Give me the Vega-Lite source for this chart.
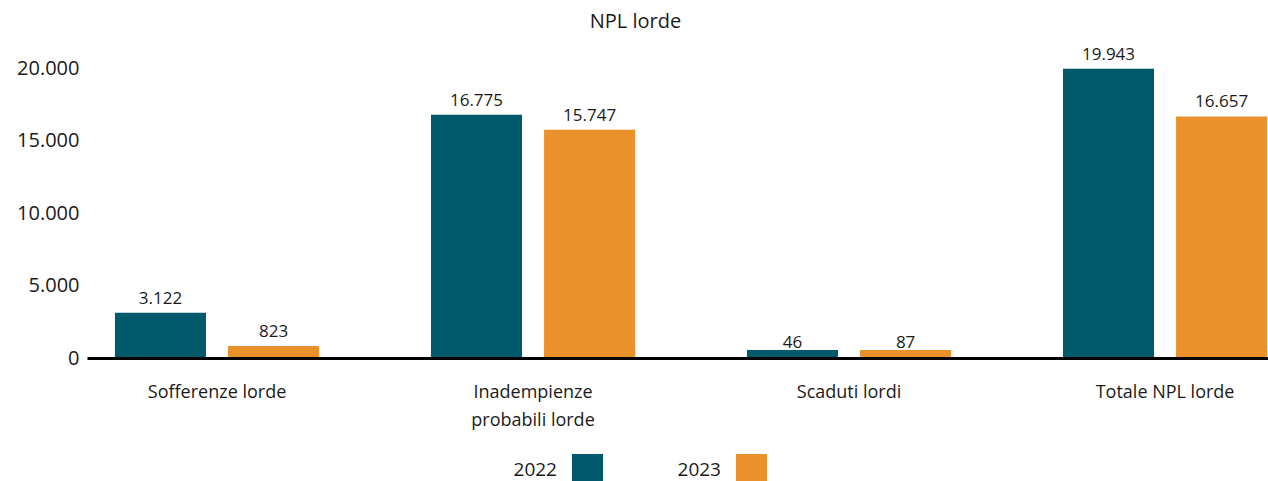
{
  "$schema": "https://vega.github.io/schema/vega-lite/v6.json",
  "autosize": "none",
  "width": 1181,
  "height": 290,
  "padding": {"left": 87, "top": 68, "right": 0, "bottom": 123},
  "background": "white",
  "title": {"text": "NPL lorde", "anchor": "middle", "dx": -42, "offset": 14, "fontSize": 20, "font": "Open Sans", "fontWeight": "normal", "color": "#1a1a1a"},
  "config": {
    "view": {"stroke": null},
    "locale": {"number": {"decimal": ",", "thousands": ".", "grouping": [3], "currency": ["€", ""]}},
    "font": "Open Sans"
  },
  "data": {"values": [
    {"cat": "Sofferenze lorde", "anno": "2022", "valore": 3122},
    {"cat": "Sofferenze lorde", "anno": "2023", "valore": 823},
    {"cat": "Inadempienze probabili lorde", "anno": "2022", "valore": 16775},
    {"cat": "Inadempienze probabili lorde", "anno": "2023", "valore": 15747},
    {"cat": "Scaduti lordi", "anno": "2022", "valore": 46},
    {"cat": "Scaduti lordi", "anno": "2023", "valore": 87},
    {"cat": "Totale NPL lorde", "anno": "2022", "valore": 19943},
    {"cat": "Totale NPL lorde", "anno": "2023", "valore": 16657}
  ]},
  "encoding": {
    "x": {"field": "cat", "type": "nominal", "sort": null,
      "scale": {"paddingInner": 0.354, "paddingOuter": 0.0456, "align": 0.97},
      "axis": {"title": null, "labelAngle": 0, "ticks": false, "domain": true, "domainColor": "#000", "domainWidth": 3,
        "labelFontSize": 18, "labelColor": "#1a1a1a", "labelPadding": 25, "labelBaseline": "top", "labelLineHeight": 28,
        "labelExpr": "datum.value == 'Inadempienze probabili lorde' ? ['Inadempienze', 'probabili lorde'] : datum.value", "zindex": 2}},
    "xOffset": {"field": "anno", "type": "nominal", "scale": {"paddingInner": 0.195, "paddingOuter": 0}},
    "color": {"field": "anno", "type": "nominal",
      "scale": {"domain": ["2022", "2023"], "range": ["#005a6c", "#eb912b"]},
      "legend": {"title": null, "orient": "none", "legendX": 485, "legendY": 386, "direction": "horizontal", "columns": 2,
        "symbolType": "square", "symbolSize": 961, "symbolStrokeWidth": 0, "symbolOpacity": 1,
        "labelFontSize": 19, "labelColor": "#1a1a1a", "labelAlign": "right", "labelOffset": -46, "columnPadding": 74}}
  },
  "layer": [
    {
      "mark": {"type": "bar", "yOffset": -8},
      "encoding": {
        "y": {"datum": 0, "type": "quantitative", "scale": {"domain": [0, 20000], "nice": false}},
        "y2": {"datum": 0}
      }
    },
    {
      "mark": {"type": "bar"},
      "encoding": {
        "y": {"field": "valore", "type": "quantitative", "scale": {"domain": [0, 20000], "nice": false},
          "axis": {"title": null, "values": [0, 5000, 10000, 15000, 20000], "format": ",d", "domain": false, "ticks": false,
            "labelFontSize": 20, "labelColor": "#1a1a1a", "labelPadding": 8,
            "gridColor": {"condition": {"test": "datum.value == 20000", "value": "#222222"}, "value": "#888888"}, "gridWidth": 1.2}}
      }
    },
    {
      "mark": {"type": "text", "baseline": "alphabetic", "dy": -9, "fontSize": 17, "color": "#1a1a1a"},
      "encoding": {
        "y": {"field": "valore", "type": "quantitative"},
        "text": {"field": "valore", "type": "quantitative", "format": ",d"},
        "color": {"value": "#1a1a1a"}
      }
    }
  ]
}
